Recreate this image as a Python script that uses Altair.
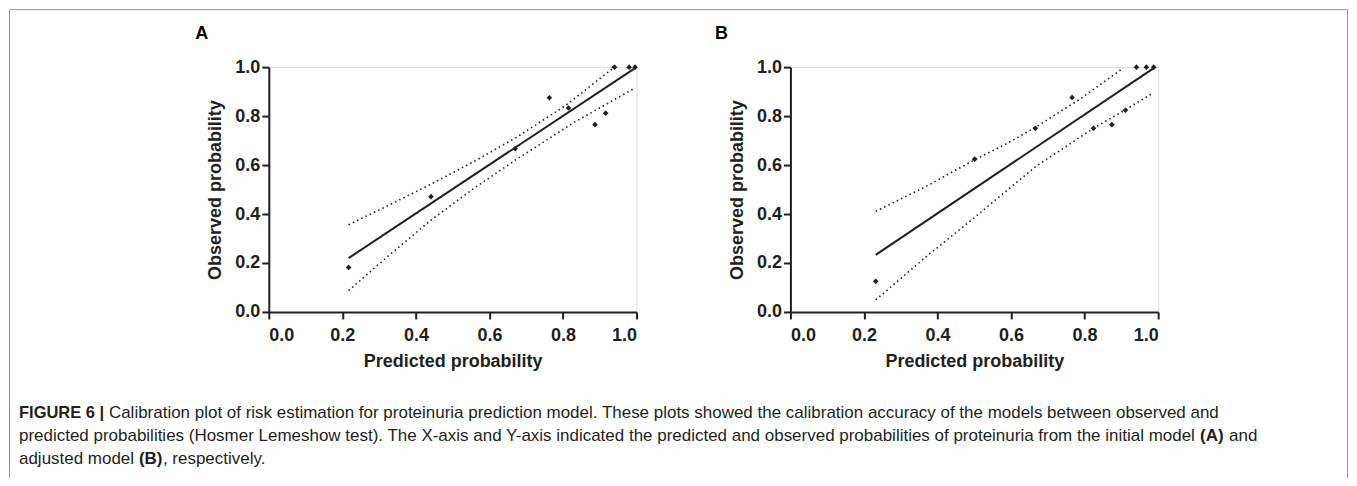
import altair as alt
import pandas as pd

# ---------------- Panel A (initial model) ----------------
a_pred = [0.217, 0.441, 0.670, 0.763, 0.815, 0.887, 0.916, 0.940, 0.980, 0.996]
a_obs = [0.182, 0.471, 0.667, 0.875, 0.833, 0.765, 0.812, 1.0, 1.0, 1.0]
a_fit_x = [0.217, 0.996]
a_fit_y = [0.220, 0.996]
a_upper_x = [0.217, 0.329, 0.441, 0.556, 0.670, 0.806, 0.940]
a_upper_y = [0.356, 0.438, 0.522, 0.613, 0.710, 0.842, 1.0]
a_lower_x = [0.217, 0.329, 0.441, 0.556, 0.670, 0.830, 0.990]
a_lower_y = [0.087, 0.234, 0.375, 0.503, 0.620, 0.774, 0.910]

# ---------------- Panel B (adjusted model) ----------------
b_pred = [0.232, 0.501, 0.666, 0.766, 0.824, 0.874, 0.911, 0.941, 0.968, 0.988]
b_obs = [0.125, 0.624, 0.750, 0.876, 0.750, 0.765, 0.824, 1.0, 1.0, 1.0]
b_fit_x = [0.232, 0.988]
b_fit_y = [0.233, 0.996]
b_upper_x = [0.232, 0.367, 0.501, 0.584, 0.666, 0.786, 0.905]
b_upper_y = [0.411, 0.511, 0.622, 0.684, 0.754, 0.868, 0.996]
b_lower_x = [0.232, 0.367, 0.501, 0.666, 0.824, 0.911, 0.988]
b_lower_y = [0.049, 0.223, 0.386, 0.593, 0.750, 0.826, 0.896]

tick_values = [0.0, 0.1, 0.2, 0.3, 0.4, 0.5, 0.6, 0.7, 0.8, 0.9, 1.0]
x_title = "Predicted probability"
y_title = "Observed probability"
panel_letters = ["A", "B"]

caption_l1_bold = "FIGURE 6 |"
caption_l1 = ("Calibration plot of risk estimation for proteinuria prediction model. These plots showed "
              "the calibration accuracy of the models between observed and")
caption_l2 = ("predicted probabilities (Hosmer Lemeshow test). The X-axis and Y-axis indicated the predicted "
              "and observed probabilities of proteinuria from the initial model")
caption_l2_bold = "(A)"
caption_l2_end = "and"
caption_l3 = "adjusted model"
caption_l3_bold = "(B)"
caption_l3_end = ", respectively."

INK = "#231f20"
FONT = "Liberation Sans"
W, H = 368, 245

major_test = "round(datum.value * 10) % 2 == 0"


def axis(title, label_pad, title_pad):
    return alt.Axis(
        values=tick_values,
        title=title,
        labelExpr=f"{major_test} ? format(datum.value, '.1f') : ''",
        labelOverlap=False,
        labelFont=FONT, labelFontSize=18, labelFontWeight="bold", labelColor=INK,
        titleFont=FONT, titleFontSize=18, titleFontWeight="bold", titleColor=INK,
        domainColor=INK, domainWidth=2, tickColor=INK, tickWidth=2,
        tickSize={"condition": {"test": major_test, "value": 7}, "value": 4},
        labelPadding=label_pad, titlePadding=title_pad, grid=False,
    )


def panel(pred, obs, fx, fy, ux, uy, lx, ly, letter, letter_x):
    xs = alt.Scale(domain=[0, 1], nice=False, zero=False)
    ys = alt.Scale(domain=[0, 1], nice=False, zero=False)
    pts = pd.DataFrame({"x": pred, "y": obs})
    fit = pd.DataFrame({"x": fx, "y": fy})
    up = pd.DataFrame({"x": ux, "y": uy})
    lo = pd.DataFrame({"x": lx, "y": ly})

    fit_line = alt.Chart(fit).mark_line(color=INK, strokeWidth=2).encode(
        x=alt.X("x:Q", scale=xs, axis=axis(x_title, 8, 8)),
        y=alt.Y("y:Q", scale=ys, axis=axis(y_title, 2, 10)),
    )
    dots = dict(color=INK, strokeWidth=1.6, strokeDash=[1.5, 3.2])
    upper = alt.Chart(up).mark_line(**dots).encode(x="x:Q", y="y:Q")
    lower = alt.Chart(lo).mark_line(**dots).encode(x="x:Q", y="y:Q")
    points = alt.Chart(pts).mark_point(shape="diamond", filled=True, size=32, color=INK, opacity=1).encode(
        x="x:Q", y="y:Q")
    lab = alt.Chart(pd.DataFrame({"t": [letter]})).mark_text(
        font=FONT, fontSize=18, fontWeight="bold", color="black", align="center", baseline="middle"
    ).encode(text="t:N", x=alt.value(letter_x), y=alt.value(-33))
    return alt.layer(fit_line, upper, lower, points, lab)


A = panel(a_pred, a_obs, a_fit_x, a_fit_y, a_upper_x, a_upper_y, a_lower_x, a_lower_y,
          panel_letters[0], -67)
B = panel(b_pred, b_obs, b_fit_x, b_fit_y, b_upper_x, b_upper_y, b_lower_x, b_lower_y,
          panel_letters[1], -69)


def txt(s, x, y, bold=False, size=17):
    return alt.Chart(pd.DataFrame({"t": [s]})).mark_text(
        font=FONT, fontSize=size, fontWeight="bold" if bold else "normal", color=INK,
        align="left", baseline="middle"
    ).encode(text="t:N", x=alt.value(x), y=alt.value(y))


# caption positions relative to the left panel's plot area
caption = [
    txt(caption_l1_bold, -250, 346, True, 16.5),
    txt(caption_l1, -160, 346),
    txt(caption_l2, -250, 369),
    txt(caption_l2_bold, 932, 369, True),
    txt(caption_l2_end, 961, 369),
    txt(caption_l3, -250, 392),
    txt(caption_l3_bold, -130, 392, True),
    txt(caption_l3_end, -106, 392),
]

frame_df = pd.DataFrame({"k": [0]})
frame_color = "#9a9a9a"
frame = [
    alt.Chart(frame_df).mark_rule(color=frame_color, strokeWidth=1).encode(
        x=alt.value(-259.5), x2=alt.value(1079.5), y=alt.value(-57.5)),
    alt.Chart(frame_df).mark_rule(color=frame_color, strokeWidth=1).encode(
        x=alt.value(-259.5), y=alt.value(-57.5), y2=alt.value(411)),
    alt.Chart(frame_df).mark_rule(color=frame_color, strokeWidth=1).encode(
        x=alt.value(1079.5), y=alt.value(-57.5), y2=alt.value(411)),
]

A_full = alt.layer(A, *caption, *frame).properties(width=W, height=H)
B_full = B.properties(width=W, height=H)

chart = alt.hconcat(A_full, B_full, spacing=154, bounds="flush").properties(
    padding=0
).configure_view(stroke=None).configure(background="white")

chart.save("out.html", embed_options={"renderer": "svg", "actions": False})
